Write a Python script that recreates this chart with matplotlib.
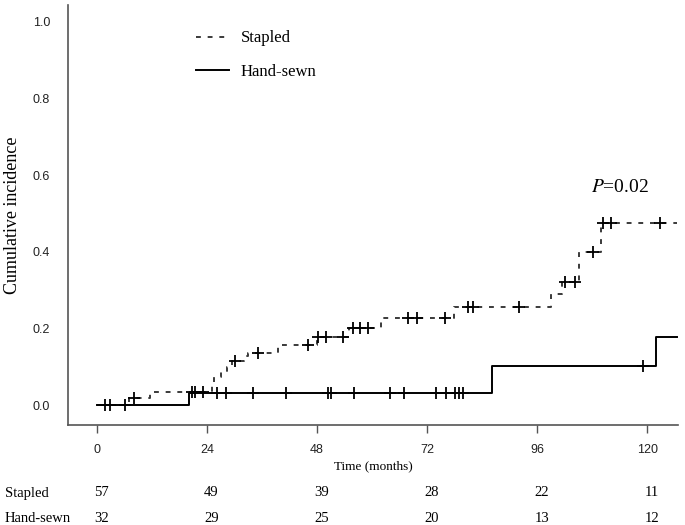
import numpy as np
import matplotlib
matplotlib.use("Agg")
import matplotlib.pyplot as plt

# ---- data ----
stapled_t = [0, 7, 11.5, 25, 25.6, 27, 28.3, 29.5, 32, 33, 39.5, 47.9, 55, 62, 77.9, 99, 101.5, 105.1, 110, 126.5]
stapled_y = [0, 0.018, 0.035, 0.054, 0.072, 0.087, 0.100, 0.115, 0.127, 0.137, 0.158, 0.178, 0.200, 0.226, 0.257, 0.290, 0.322, 0.400, 0.476, 0.476]
stapled_cens = [1.7, 2.8, 6.1, 8.0, 20.7, 21.4, 23.1, 30.1, 35.2, 46.0, 48.3, 50.0, 53.7, 55.9, 57.4, 59.2,
                67.9, 69.7, 75.9, 81.0, 82.1, 92.1, 102.0, 104.3, 108.1, 110.4, 112.2, 122.8]

hand_t = [0, 20, 86.1, 122, 126.5]
hand_y = [0, 0.031, 0.102, 0.177, 0.177]
hand_cens = [26.2, 28.1, 34.0, 41.2, 50.4, 51.0, 56.0, 64.0, 67.0, 73.9, 76.1, 78.1, 79.0, 79.8, 119.0]

xticks = [0, 24, 48, 72, 96, 120]
yticks = [0.0, 0.2, 0.4, 0.6, 0.8, 1.0]
risk_stapled = [57, 49, 39, 28, 22, 11]
risk_hand = [32, 29, 25, 20, 13, 12]
p_text = "0.02"

def step_val(ts, ys, x):
    i = np.searchsorted(ts, x, side="right") - 1
    return ys[max(i, 0)]

serif = "Liberation Serif"
sans = "Liberation Sans"

fig = plt.figure(figsize=(6.85, 5.25), dpi=100)
ax = fig.add_axes([68/685, 1 - 425/525, (678-68)/685, (425-5)/525])

ax.step(stapled_t, stapled_y, where="post", color="#3a3a3a", lw=1.4,
        linestyle=(0, (2.5, 3.5)), label="Stapled")
ax.step(hand_t, hand_y, where="post", color="black", lw=1.4, label="Hand-sewn")

ax.plot(stapled_cens, [step_val(stapled_t, stapled_y, c) for c in stapled_cens],
        linestyle="none", marker="+", ms=8, mew=1.3, color="black")
ax.plot(hand_cens, [step_val(hand_t, hand_y, c) for c in hand_cens],
        linestyle="none", marker="+", ms=8, mew=1.3, color="black")

ax.set_xlim(-6.3, 126.7)
ax.set_ylim(-0.052, 1.044)
ax.set_xticks(xticks)
ax.set_yticks(yticks)
ax.set_yticklabels([f"{v:.1f}" for v in yticks], fontfamily=sans, fontsize=9, color="#222222")
ax.set_xticklabels([str(v) for v in xticks], fontfamily=sans, fontsize=9, color="#222222")
ax.tick_params(axis="y", length=0, pad=13)
ax.tick_params(axis="x", length=6, width=1, pad=8, color="#555555")
for s in ["top", "right"]:
    ax.spines[s].set_visible(False)
for s in ["left", "bottom"]:
    ax.spines[s].set_color("#555555")
    ax.spines[s].set_linewidth(1.2)

ax.set_ylabel("Cumulative incidence", fontfamily=serif, fontsize=13, labelpad=8)
ax.set_xlabel("Time (months)", fontfamily=serif, fontsize=9.5, labelpad=3)

leg = ax.legend(loc="upper left", bbox_to_anchor=(0.185, 0.975), frameon=False,
                prop={"family": serif, "size": 12}, handlelength=2.0,
                labelspacing=1.05, handletextpad=0.7)

ax.text(114, 0.569, "$\\it{P}$=" + p_text, fontfamily=serif, fontsize=14,
        ha="center", va="center", math_fontfamily="stix")

trans = matplotlib.transforms.blended_transform_factory(ax.transData, fig.transFigure)
for x, a, b in zip(xticks, risk_stapled, risk_hand):
    ax.text(x + 1, 1 - 493/525, str(a), transform=trans, ha="center", va="center",
            fontfamily=serif, fontsize=10.5)
    ax.text(x + 1, 1 - 518/525, str(b), transform=trans, ha="center", va="center",
            fontfamily=serif, fontsize=10.5)
fig.text(5/685, 1 - 493/525, "Stapled", ha="left", va="center", fontfamily=serif, fontsize=10.5)
fig.text(5/685, 1 - 518/525, "Hand-sewn", ha="left", va="center", fontfamily=serif, fontsize=10.5)

fig.savefig("out.png", dpi=100)
